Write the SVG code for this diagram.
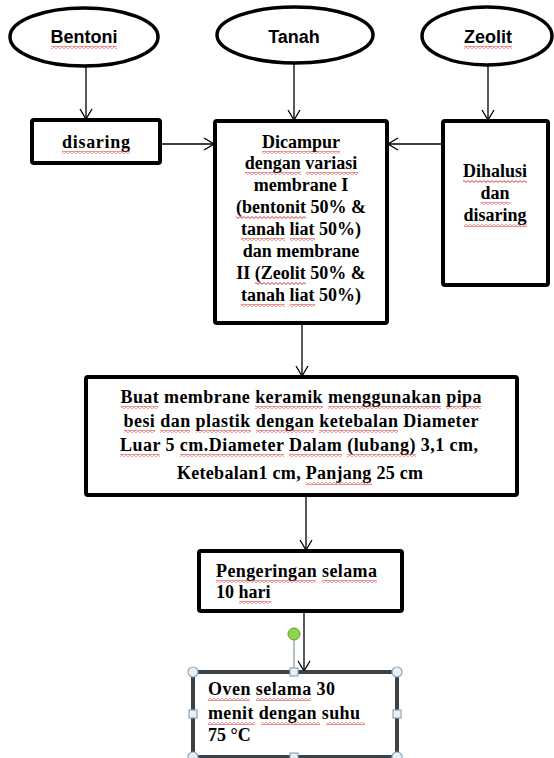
<svg xmlns="http://www.w3.org/2000/svg" width="554" height="758" viewBox="0 0 554 758">
<style>
.bg{fill:#fff}
.el{fill:#fff;stroke:#000;stroke-width:3.5}
.bx{fill:#fff;stroke:#000;stroke-width:4;stroke-linejoin:round}
.sans{font-family:"Liberation Sans",Arial,sans-serif;font-weight:bold;font-size:18px;fill:#000}
.ser{font-family:"Liberation Serif","Times New Roman",serif;font-weight:bold;font-size:18px;fill:#000}
.c{text-anchor:middle}
.cn line{stroke:#000;stroke-width:1.3;fill:none}
.hc{fill:#e6f0f7;stroke:#8ea7bd;stroke-width:1.2}
.sq rect{fill:url(#wv);height:3px}
</style>
<defs>
<marker id="ah" viewBox="0 0 12 14" refX="11" refY="7" markerWidth="12" markerHeight="14" markerUnits="userSpaceOnUse" orient="auto">
<path d="M1,1 L11,7 L1,13" fill="none" stroke="#000" stroke-width="1.3"/>
</marker>
<pattern id="wv" width="4" height="3" patternUnits="userSpaceOnUse">
<path d="M0,0.6 L2,2.4 L4,0.6" fill="none" stroke="#e02020" stroke-width="0.9"/>
</pattern>
</defs>
<rect class="bg" x="0" y="0" width="554" height="758"/>

<g id="connectors" class="cn">
<line x1="86" y1="67" x2="86" y2="119" marker-end="url(#ah)"/>
<line x1="294" y1="62" x2="294" y2="120" marker-end="url(#ah)"/>
<line x1="488" y1="65" x2="488" y2="120" marker-end="url(#ah)"/>
<line x1="160" y1="144" x2="214" y2="144" marker-end="url(#ah)"/>
<line x1="442" y1="144" x2="388" y2="144" marker-end="url(#ah)"/>
<line x1="302" y1="323" x2="302" y2="376" marker-end="url(#ah)"/>
<line x1="306" y1="495" x2="306" y2="550" marker-end="url(#ah)"/>
<line x1="304" y1="611" x2="304" y2="671" marker-end="url(#ah)"/>
</g>

<g id="bentoni">
<ellipse class="el" cx="84" cy="37" rx="74" ry="29"/>
<text class="sans c" x="84" y="43">Bentoni</text>
</g>
<g id="tanah">
<ellipse class="el" cx="295" cy="35" rx="78" ry="28"/>
<text class="sans c" x="294" y="43">Tanah</text>
</g>
<g id="zeolit">
<ellipse class="el" cx="487" cy="36" rx="65" ry="29"/>
<text class="sans c" x="488" y="43">Zeolit</text>
</g>

<g id="disaring">
<rect class="bx" x="32" y="120" width="128" height="43" rx="2"/>
<text class="ser c" x="96" y="148" textLength="68">disaring</text>
</g>

<g id="dicampur">
<rect class="bx" x="215" y="121" width="172" height="202" rx="2"/>
<text class="ser c" x="301" y="148">Dicampur</text>
<text class="ser c" x="301" y="169">dengan variasi</text>
<text class="ser c" x="301" y="191">membrane I</text>
<text class="ser c" x="301" y="213">(bentonit 50% &amp;</text>
<text class="ser c" x="301" y="235">tanah liat 50%)</text>
<text class="ser c" x="301" y="257">dan membrane</text>
<text class="ser c" x="301" y="279">II (Zeolit 50% &amp;</text>
<text class="ser c" x="301" y="301">tanah liat 50%)</text>
</g>

<g id="dihalusi">
<rect class="bx" x="443" y="121" width="105" height="164" rx="2"/>
<text class="ser c" x="495" y="177">Dihalusi</text>
<text class="ser c" x="495" y="199">dan</text>
<text class="ser c" x="495" y="221">disaring</text>
</g>

<g id="membrane">
<rect class="bx" x="86" y="377" width="431" height="118" rx="2"/>
<text class="ser c" x="301" y="403" textLength="361">Buat membrane keramik menggunakan pipa</text>
<text class="ser c" x="301" y="427" textLength="355">besi dan plastik dengan ketebalan Diameter</text>
<text class="ser c" x="299" y="451" textLength="358">Luar 5 cm.Diameter Dalam (lubang) 3,1 cm,</text>
<text class="ser c" x="300" y="479" textLength="246">Ketebalan1 cm, Panjang 25 cm</text>
</g>

<g id="pengeringan">
<rect class="bx" x="199" y="551" width="203" height="60" rx="2"/>
<text class="ser" x="216" y="577" textLength="161">Pengeringan selama</text>
<text class="ser" x="216" y="598">10 hari</text>
</g>

<g id="oven">
<rect x="193" y="672" width="204" height="85" fill="#fff" stroke="#000" stroke-width="3.5"/>
<rect x="193" y="672" width="204" height="85" fill="none" stroke="#8ea7bd" stroke-width="0.8"/>
<text class="ser" x="208" y="695" textLength="127">Oven selama 30</text>
<text class="ser" x="208" y="719" textLength="152">menit dengan suhu</text>
<text class="ser" x="208" y="741">75 °C</text>
<line x1="294" y1="640" x2="294" y2="668" stroke="#7f98b0" stroke-width="1.2"/>
<circle cx="294" cy="634" r="6" fill="#8fd64c" stroke="#5f9a31" stroke-width="1"/>
<circle class="hc" cx="193" cy="672" r="5"/>
<circle class="hc" cx="397" cy="672" r="5"/>
<circle class="hc" cx="193" cy="757" r="5"/>
<circle class="hc" cx="397" cy="757" r="5"/>
<rect class="hc" x="290" y="668" width="8" height="8"/>
<rect class="hc" x="189" y="710" width="8" height="8"/>
<rect class="hc" x="393" y="710" width="8" height="8"/>
<rect class="hc" x="290" y="753" width="8" height="8"/>
</g>

<g id="spellcheck" class="sq">
<rect x="51" y="46" width="66" height="3"/>
<rect x="464" y="46" width="48" height="3"/>
<rect x="62" y="151" width="68" height="3"/>
<rect x="262" y="151" width="78" height="3"/>
<rect x="245" y="172" width="56" height="3"/>
<rect x="306" y="172" width="52" height="3"/>
<rect x="236" y="216" width="70" height="3"/>
<rect x="241" y="238" width="44" height="3"/>
<rect x="290" y="238" width="25" height="3"/>
<rect x="255" y="282" width="51" height="3"/>
<rect x="241" y="304" width="44" height="3"/>
<rect x="290" y="304" width="25" height="3"/>
<rect x="463" y="180" width="64" height="3"/>
<rect x="481" y="202" width="29" height="3"/>
<rect x="464" y="224" width="63" height="3"/>
<rect x="121" y="406" width="37" height="3"/>
<rect x="255" y="406" width="68" height="3"/>
<rect x="328" y="406" width="113" height="3"/>
<rect x="446" y="406" width="35" height="3"/>
<rect x="124" y="430" width="31" height="3"/>
<rect x="160" y="430" width="30" height="3"/>
<rect x="196" y="430" width="55" height="3"/>
<rect x="256" y="430" width="58" height="3"/>
<rect x="319" y="430" width="79" height="3"/>
<rect x="120" y="454" width="40" height="3"/>
<rect x="180" y="454" width="104" height="3"/>
<rect x="289" y="454" width="53" height="3"/>
<rect x="347" y="454" width="69" height="3"/>
<rect x="306" y="482" width="66" height="3"/>
<rect x="216" y="580" width="100" height="3"/>
<rect x="322" y="580" width="55" height="3"/>
<rect x="239" y="601" width="32" height="3"/>
<rect x="208" y="698" width="42" height="3"/>
<rect x="256" y="698" width="55" height="3"/>
<rect x="208" y="722" width="47" height="3"/>
<rect x="261" y="722" width="59" height="3"/>
<rect x="326" y="722" width="39" height="3"/>
</g>
</svg>
